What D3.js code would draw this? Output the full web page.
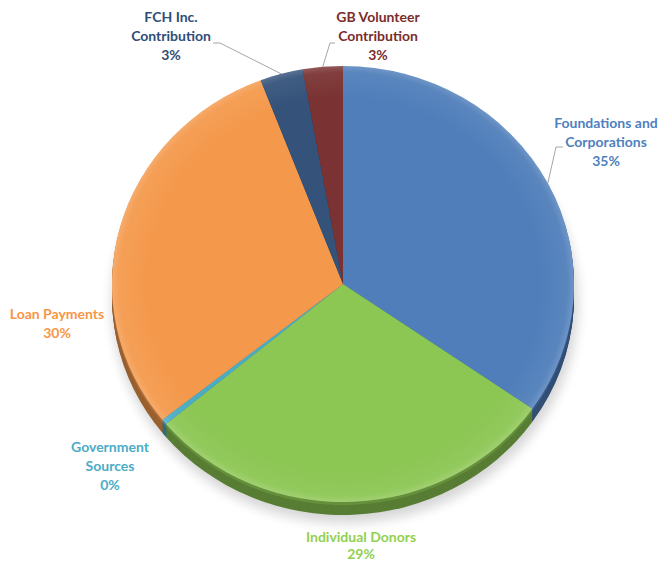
<!DOCTYPE html>
<html>
<head>
<meta charset="utf-8">
<script src="https://cdn.jsdelivr.net/npm/d3@7"></script>
<style>
  html, body { margin: 0; padding: 0; background: #fff; }
  svg { display: block; }
</style>
</head>
<body>
<svg id="chart" width="663" height="563"></svg>
<script>
// ---- data ----
const categories = ["Foundations and Corporations", "Individual Donors", "Government Sources", "Loan Payments", "FCH Inc. Contribution", "GB Volunteer Contribution"];
const values = [34.7, 29.2, 0.4, 29.9, 3.0, 2.8];
const labelLines = [["Foundations and", "Corporations"], ["Individual Donors"], ["Government", "Sources"], ["Loan Payments"], ["FCH Inc.", "Contribution"], ["GB Volunteer", "Contribution"]];

// ---- styles ----
const sliceColors = ["#4F7EBA", "#8CC653", "#4BACC6", "#F4994C", "#34527A", "#7A3232"];
const labelColors = ["#4F81BD", "#92D050", "#4BACC6", "#F79646", "#2E4E78", "#7B2C2C"];

// ---- layout ----
const W = 663, H = 563;
const cx = 343, cy = 284, rx = 231, ry = 218, depth = 13;
const labelLayout = [
  { x: 606, y: 128, lh: 19, leader: [[563, 147], [556, 147]] },
  { x: 361, y: 542, lh: 17, leader: null },
  { x: 110, y: 452, lh: 19, leader: null },
  { x: 57, y: 319, lh: 19, leader: null },
  { x: 171, y: 22, lh: 19, leader: [[213, 43], [220, 43]] },
  { x: 378, y: 22, lh: 19, leader: [[335, 43], [330, 43]] }
];

const svg = d3.select("#chart");
const defs = svg.append("defs");
const blur = defs.append("filter").attr("id", "shadow").attr("x", "-20%").attr("y", "-20%").attr("width", "140%").attr("height", "140%");
blur.append("feGaussianBlur").attr("stdDeviation", 6);

const sheenGrad = defs.append("radialGradient").attr("id", "sheen")
  .attr("cx", "0.5").attr("cy", "0.5").attr("r", "0.5");
sheenGrad.append("stop").attr("offset", "0.85").attr("stop-color", "#fff").attr("stop-opacity", 0);
sheenGrad.append("stop").attr("offset", "0.97").attr("stop-color", "#fff").attr("stop-opacity", 0.06);
sheenGrad.append("stop").attr("offset", "1").attr("stop-color", "#fff").attr("stop-opacity", 0.18);

const pie = d3.pie().sort(null).value(d => d).startAngle(0).endAngle(2 * Math.PI);
const arcs = pie(values);
const arc = d3.arc().innerRadius(0).outerRadius(rx);
const sy = ry / rx;

// shadow
svg.append("ellipse")
  .attr("cx", cx + 2).attr("cy", cy + depth + 6)
  .attr("rx", rx + 2).attr("ry", ry + 2)
  .attr("fill", "#000").attr("opacity", 0.16)
  .attr("filter", "url(#shadow)");

// side (extrusion)
const sideG = svg.append("g");
for (let k = depth; k >= 1; k--) {
  sideG.append("g")
    .attr("transform", `translate(${cx},${cy + k}) scale(1,${sy})`)
    .selectAll("path").data(arcs).join("path")
    .attr("d", arc)
    .attr("fill", (d, i) => d3.color(sliceColors[i]).darker(k > 3 ? 1.3 : 0.9))
    .attr("stroke", "none");
}

// top face
const faceG = svg.append("g").attr("transform", `translate(${cx},${cy}) scale(1,${sy})`);
faceG.selectAll("path.slice").data(arcs).join("path")
  .attr("class", "slice")
  .attr("d", arc)
  .attr("fill", (d, i) => sliceColors[i]);
faceG.append("circle").attr("r", rx).attr("fill", "url(#sheen)");

// leader lines
function edgePoint(d) {
  const a = (d.startAngle + d.endAngle) / 2;
  return [cx + rx * Math.sin(a), cy - ry * Math.cos(a)];
}
const leaderG = svg.append("g");
arcs.forEach((d, i) => {
  const L = labelLayout[i];
  if (!L.leader) return;
  const pts = [...L.leader, edgePoint(d)];
  leaderG.append("path")
    .attr("d", d3.line()(pts))
    .attr("fill", "none").attr("stroke", "#A6A6A6").attr("stroke-width", 1);
});

// labels
const fmt = v => Math.round(v / d3.sum(values) * 100) + "%";
const labelG = svg.append("g")
  .attr("font-family", "Lato, 'Open Sans', sans-serif")
  .attr("font-weight", "bold")
  .attr("font-size", 14)
  .attr("text-anchor", "middle");
categories.forEach((c, i) => {
  const L = labelLayout[i];
  const lines = [...labelLines[i], fmt(values[i])];
  const t = labelG.append("text").attr("fill", labelColors[i]);
  lines.forEach((s, j) => {
    t.append("tspan").attr("x", L.x).attr("y", L.y + j * L.lh).text(s);
  });
});
</script>
</body>
</html>
